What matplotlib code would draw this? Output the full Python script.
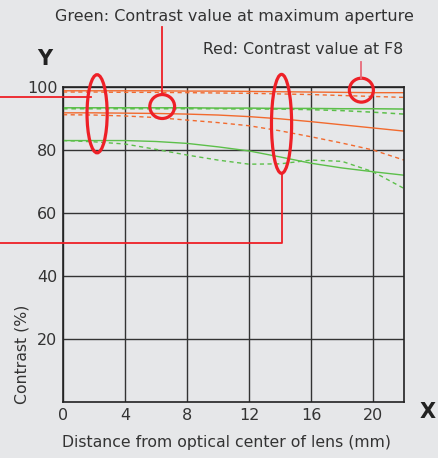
import matplotlib
matplotlib.use("Agg")
import matplotlib.pyplot as plt
from matplotlib.patches import Ellipse

plt.rcParams['font.family'] = ['DejaVu Sans']

# Data
x_pos = [0, 2, 4, 6, 8, 10, 12, 14, 16, 18, 20, 22]
red_solid_sag = [98.8, 98.8, 98.8, 98.8, 98.7, 98.7, 98.6, 98.5, 98.4, 98.3, 98.2, 98.2]
red_dash_mer = [98.4, 98.4, 98.3, 98.3, 98.2, 98.1, 98.0, 97.8, 97.6, 97.3, 97.0, 96.7]
green_solid_sag = [93.4, 93.4, 93.4, 93.4, 93.4, 93.3, 93.3, 93.2, 93.2, 93.1, 93.1, 93.0]
green_dash_mer = [93.1, 93.1, 93.1, 93.1, 93.1, 93.1, 93.0, 93.0, 92.8, 92.5, 92.0, 91.4]
red_solid_sag30 = [91.8, 91.8, 91.7, 91.6, 91.4, 91.1, 90.6, 89.9, 89.0, 88.0, 87.0, 86.0]
red_dash_mer30 = [91.2, 91.1, 90.8, 90.3, 89.5, 88.7, 87.7, 86.1, 84.2, 82.2, 80.0, 76.8]
green_solid_sag30 = [83.0, 83.0, 83.0, 82.7, 82.1, 81.0, 79.7, 77.8, 75.8, 74.3, 73.1, 72.0]
green_dash_mer30 = [83.0, 82.6, 81.9, 80.2, 78.4, 76.8, 75.5, 75.6, 76.8, 76.4, 73.1, 67.8]

x_ticks = [0, 4, 8, 12, 16, 20]
y_ticks = [20, 40, 60, 80, 100]

ORANGE = '#f26a2e'
GREEN = '#5cbf4a'
RED = '#ee2027'
BG = '#e6e7e9'

fig = plt.figure(figsize=(4.39, 4.58), dpi=100, facecolor=BG)
ax = fig.add_axes([63/439, 1-402/458, 341/439, 315/458])
ax.set_facecolor(BG)
ax.set_xlim(0, 22)
ax.set_ylim(0, 100)

dash = (0, (3, 2.5))
ax.plot(x_pos, red_solid_sag, color=ORANGE, lw=1.0)
ax.plot(x_pos, red_dash_mer, color=ORANGE, lw=1.0, linestyle=dash)
ax.plot(x_pos, green_solid_sag, color=GREEN, lw=1.1)
ax.plot(x_pos, green_dash_mer, color=GREEN, lw=1.1, linestyle=dash)
ax.plot(x_pos, red_solid_sag30, color=ORANGE, lw=1.0)
ax.plot(x_pos, red_dash_mer30, color=ORANGE, lw=1.0, linestyle=dash)
ax.plot(x_pos, green_solid_sag30, color=GREEN, lw=1.0)
ax.plot(x_pos, green_dash_mer30, color=GREEN, lw=1.0, linestyle=dash)

ax.set_xticks(x_ticks)
ax.set_yticks(y_ticks)
ax.tick_params(length=0, labelsize=11.5, colors='#333333', pad=4)
ax.grid(True, color='#333333', lw=1.0)
ax.set_axisbelow(True)
for s in ax.spines.values():
    s.set_color('#222222')
    s.set_linewidth(1.2)

# Red annotation marks (data coordinates)
ann_kw = dict(fill=False, edgecolor=RED, lw=2.3, clip_on=False, zorder=5)
ax.add_patch(Ellipse((2.2, 91.5), 1.3, 24.8, **ann_kw))
ax.add_patch(Ellipse((14.1, 88.3), 1.3, 31.4, **ann_kw))
ax.add_patch(Ellipse((6.4, 93.8), 1.6, 7.6, **ann_kw))
ax.add_patch(Ellipse((19.25, 99.0), 1.55, 7.6, **ann_kw))

line_kw = dict(color=RED, lw=1.3, clip_on=False, zorder=5)
ax.plot([-4.1, 1.8], [96.8, 96.8], **line_kw)
ax.plot([6.4, 6.4], [97.6, 119.0], **line_kw)
ax.plot([19.25, 19.25], [102.8, 108.0], color='#e86a7a', lw=1.3, clip_on=False, zorder=5)
ax.plot([-4.1, 14.1, 14.1], [50.5, 50.5, 72.6], **line_kw)

# Texts
fig.text(234/439, 1-16/458, 'Green: Contrast value at maximum aperture',
         ha='center', va='center', fontsize=11.5, color='#333333')
fig.text(303/439, 1-50/458, 'Red: Contrast value at F8',
         ha='center', va='center', fontsize=11.3, color='#333333')
fig.text(45/439, 1-59/458, 'Y', ha='center', va='center', fontsize=15,
         fontweight='bold', color='#222222')
fig.text(428/439, 1-412/458, 'X', ha='center', va='center', fontsize=15,
         fontweight='bold', color='#222222')
fig.text(226/439, 1-443/458, 'Distance from optical center of lens (mm)',
         ha='center', va='center', fontsize=11.3, color='#333333')
fig.text(22/439, 1-354/458, 'Contrast (%)', ha='center', va='center',
         rotation=90, fontsize=11.3, color='#333333')

fig.savefig('out.png', dpi=100, facecolor=BG)
